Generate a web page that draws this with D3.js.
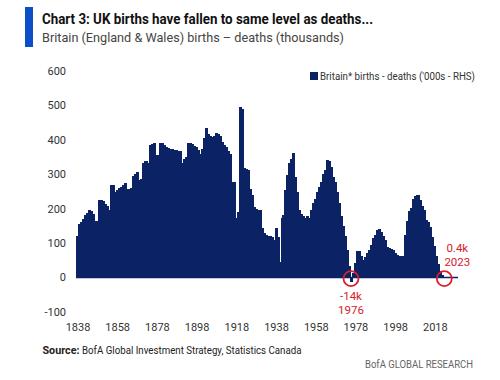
<!DOCTYPE html>
<html>
<head>
<meta charset="utf-8">
<script src="https://cdn.jsdelivr.net/npm/d3@7"></script>
<style>
  html, body { margin: 0; padding: 0; background: #fff; }
  svg { display: block; font-family: Roboto, "Open Sans", sans-serif; }
</style>
</head>
<body>
<svg id="chart" width="500" height="380"></svg>
<script>
// ---- data ----
const firstYear = 1838;
const lastYear = 2023;
const values = [
  122,156,
  160,170,182,188,195,193,185,163,163,226,
  224,222,215,209,197,270,268,250,255,260,
  262,268,276,257,257,260,295,301,308,282,
  285,334,338,340,334,385,387,390,356,356,
  392,392,386,378,376,374,373,371,370,369,
  368,332,344,350,392,391,389,381,378,370,
  358,372,405,434,418,411,409,410,421,417,
  410,395,386,380,368,359,279,279,173,190,
  495,490,318,316,313,257,241,205,200,197,
  195,144,130,124,122,120,118,110,144,118,
  44,173,183,255,299,332,345,363,293,250,
  197,186,180,173,178,173,197,216,228,250,
  264,279,300,313,342,340,321,293,279,250,
  216,178,150,120,80,35,-14,14,42,76,
  76,62,52,60,71,81,95,115,125,139,
  141,131,122,110,89,85,83,81,71,67,
  62,62,64,125,163,192,202,228,238,241,
  241,226,209,197,168,160,148,118,91,64,
  38,19,8,0.4
];
const years = d3.range(firstYear, lastYear + 1);
const xTickYears = [1838, 1858, 1878, 1898, 1918, 1938, 1958, 1978, 1998, 2018];
const yTicks = [-100, 0, 100, 200, 300, 400, 500, 600];
const highlights = [
  { year: 1976, value: -14, label: "-14k", pos: "below" },
  { year: 2023, value: 0.4, label: "0.4k", pos: "above" }
];
const titleText = "Chart 3: UK births have fallen to same level as deaths...";
const subtitleText = "Britain (England & Wales) births \u2013 deaths (thousands)";
const legendText = "Britain* births - deaths ('000s - RHS)";
const sourceLabel = "Source:";
const sourceText = "BofA Global Investment Strategy, Statistics Canada";
const brandText = "BofA GLOBAL RESEARCH";

// ---- layout ----
const svg = d3.select("#chart");
const navy = "#0b2265";
const red = "#d6202c";

const x = d3.scaleBand().domain(years).range([76, 445.3]).padding(0);
const y = d3.scaleLinear().domain([-100, 600]).range([312, 71]);

// header
svg.append("rect").attr("x", 25).attr("y", 7).attr("width", 8).attr("height", 40).attr("fill", "#0a4fc6");
svg.append("text").attr("x", 42).attr("y", 24)
  .attr("font-size", 14.5).attr("font-weight", 700).attr("fill", "#111")
  .attr("textLength", 331).attr("lengthAdjust", "spacingAndGlyphs")
  .text(titleText);
svg.append("text").attr("x", 42).attr("y", 41.5)
  .attr("font-size", 13.5).attr("fill", "#444")
  .attr("textLength", 302).attr("lengthAdjust", "spacingAndGlyphs")
  .text(subtitleText);

// y axis labels
svg.append("g").selectAll("text").data(yTicks).join("text")
  .attr("x", 66).attr("y", d => y(d)).attr("dy", "0.35em")
  .attr("text-anchor", "end").attr("font-size", 11).attr("fill", "#333")
  .text(d => d);

// bars
const bw = x.bandwidth();
svg.append("g").attr("shape-rendering", "crispEdges")
  .selectAll("rect").data(years).join("rect")
  .attr("x", d => x(d))
  .attr("width", bw + 1)
  .attr("y", (d, i) => Math.min(y(values[i]), y(0)))
  .attr("height", (d, i) => Math.abs(y(values[i]) - y(0)))
  .attr("fill", navy);

// zero line
svg.append("line").attr("x1", 76).attr("x2", 458).attr("y1", y(0)).attr("y2", y(0))
  .attr("stroke", navy).attr("stroke-width", 1.6);

// x axis labels
svg.append("g").selectAll("text").data(xTickYears).join("text")
  .attr("x", d => x(d) + bw / 2 + 1).attr("y", 327).attr("dy", "0.35em")
  .attr("text-anchor", "middle").attr("font-size", 11).attr("fill", "#333")
  .text(d => d);

// legend
svg.append("rect").attr("x", 310).attr("y", 72).attr("width", 8).attr("height", 8).attr("fill", navy);
svg.append("text").attr("x", 320).attr("y", 79.5)
  .attr("font-size", 10).attr("fill", "#333")
  .attr("textLength", 155).attr("lengthAdjust", "spacingAndGlyphs")
  .text(legendText);

// highlights
const hl = svg.append("g");
highlights.forEach(h => {
  const cx = x(h.year) + bw / 2;
  hl.append("circle").attr("cx", cx).attr("cy", y(0) + 1).attr("r", 7.5)
    .attr("fill", "none").attr("stroke", red).attr("stroke-width", 1.8);
  const lx = h.pos === "below" ? cx : cx + 13;
  const ly = h.pos === "below" ? 296 : 248;
  hl.append("text").attr("x", lx).attr("y", ly).attr("dy", "0.35em")
    .attr("text-anchor", "middle").attr("font-size", 11.5).attr("fill", red).text(h.label);
  hl.append("text").attr("x", lx).attr("y", ly + 13.5).attr("dy", "0.35em")
    .attr("text-anchor", "middle").attr("font-size", 11.5).attr("fill", red).text(h.year);
});

// footer
svg.append("text").attr("x", 42.5).attr("y", 354)
  .attr("font-size", 11).attr("font-weight", 700).attr("fill", "#222")
  .attr("textLength", 37).attr("lengthAdjust", "spacingAndGlyphs")
  .text(sourceLabel);
svg.append("text").attr("x", 82).attr("y", 354)
  .attr("font-size", 11).attr("fill", "#222")
  .attr("textLength", 219.5).attr("lengthAdjust", "spacingAndGlyphs")
  .text(sourceText);
svg.append("text").attr("x", 473).attr("y", 368)
  .attr("text-anchor", "end").attr("font-size", 10.5).attr("fill", "#666")
  .attr("textLength", 108).attr("lengthAdjust", "spacingAndGlyphs")
  .text(brandText);
</script>
</body>
</html>
